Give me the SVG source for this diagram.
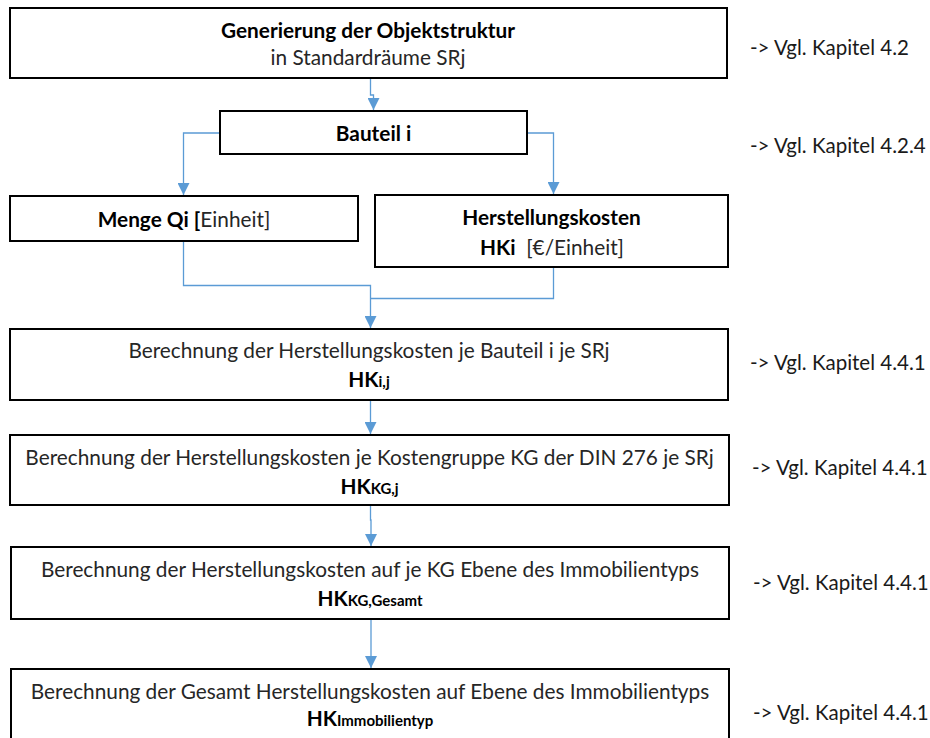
<svg xmlns="http://www.w3.org/2000/svg" width="930" height="738" viewBox="0 0 930 738">
  <style>
    .box { fill: #ffffff; stroke: #000000; stroke-width: 2; }
    .t { font-family: Lato, "Liberation Sans", sans-serif; font-size: 20.8px; fill: #262626; text-anchor: middle; }
    .b { font-weight: bold; fill: #000000; }
    .sub { font-size: 15px; font-weight: bold; }
    .ref { font-family: Lato, "Liberation Sans", sans-serif; font-size: 20.5px; fill: #1a1a1a; }
    .conn { fill: none; stroke: #5b9bd5; stroke-width: 1.3; marker-end: url(#arrow); }
  </style>
  <defs>
    <marker id="arrow" viewBox="0 0 12 12" refX="12" refY="6" markerWidth="12" markerHeight="12" markerUnits="userSpaceOnUse" orient="auto">
      <path d="M0,0 L12,6 L0,12 Z" fill="#5b9bd5"/>
    </marker>
  </defs>
  <rect width="930" height="738" fill="#ffffff"/>

  <!-- connectors -->
  <g id="connectors">
    <path class="conn" d="M370.5,79 V95 H373.5 V110"/>
    <path class="conn" d="M220,133 H183.5 V195"/>
    <path class="conn" d="M527,133 H553.5 V194"/>
    <path d="M183.5,241 V285.5 H370.5 V298" fill="none" stroke="#5b9bd5" stroke-width="1.3"/>
    <path d="M553.5,267 V298.5 H370.5" fill="none" stroke="#5b9bd5" stroke-width="1.3"/>
    <path class="conn" d="M370.5,298 V328"/>
    <path class="conn" d="M370.5,400 V434"/>
    <path class="conn" d="M370.5,505 V520 H371 V546"/>
    <path class="conn" d="M371,619 V668"/>
  </g>

  <!-- process steps -->
  <g id="objektstruktur">
    <rect class="box" x="10" y="8" width="717" height="70"/>
    <text class="t b" x="368" y="38">Generierung der Objektstruktur</text>
    <text class="t" x="368" y="65">in Standardräume SRj</text>
  </g>
  <g id="bauteil">
    <rect class="box" x="220" y="111" width="307" height="43"/>
    <text class="t b" x="373.5" y="141">Bauteil i</text>
  </g>
  <g id="menge">
    <rect class="box" x="10" y="196" width="348" height="45"/>
    <text class="t" x="184" y="227"><tspan class="b">Menge Qi [</tspan>Einheit]</text>
  </g>
  <g id="herstellungskosten">
    <rect class="box" x="375" y="195" width="353" height="72"/>
    <text class="t b" x="551.5" y="225">Herstellungskosten</text>
    <text class="t" x="552" y="255" xml:space="preserve"><tspan class="b">HKi</tspan>  [€/Einheit]</text>
  </g>
  <g id="hk-bauteil">
    <rect class="box" x="10" y="329" width="718" height="71"/>
    <text class="t" x="369" y="358">Berechnung der Herstellungskosten je Bauteil i je SRj</text>
    <text class="t b" x="369" y="387">HK<tspan class="sub">i,j</tspan></text>
  </g>
  <g id="hk-kostengruppe">
    <rect class="box" x="10" y="435" width="719" height="70"/>
    <text class="t" x="369.5" y="465">Berechnung der Herstellungskosten je Kostengruppe KG der DIN 276 je SRj</text>
    <text class="t b" x="369.5" y="494">HK<tspan class="sub">KG,j</tspan></text>
  </g>
  <g id="hk-kg-gesamt">
    <rect class="box" x="11" y="547" width="718" height="72"/>
    <text class="t" x="370" y="577">Berechnung der Herstellungskosten auf je KG Ebene des Immobilientyps</text>
    <text class="t b" x="370" y="606">HK<tspan class="sub">KG,Gesamt</tspan></text>
  </g>
  <g id="hk-immobilientyp">
    <rect class="box" x="11" y="669" width="718" height="80"/>
    <text class="t" x="370" y="699">Berechnung der Gesamt Herstellungskosten auf Ebene des Immobilientyps</text>
    <text class="t b" x="370" y="726">HK<tspan class="sub">Immobilientyp</tspan></text>
  </g>

  <!-- chapter references -->
  <g id="references">
    <text class="ref" x="750" y="55">-&gt; Vgl. Kapitel 4.2</text>
    <text class="ref" x="750" y="153">-&gt; Vgl. Kapitel 4.2.4</text>
    <text class="ref" x="750" y="370">-&gt; Vgl. Kapitel 4.4.1</text>
    <text class="ref" x="752" y="475">-&gt; Vgl. Kapitel 4.4.1</text>
    <text class="ref" x="753" y="590">-&gt; Vgl. Kapitel 4.4.1</text>
    <text class="ref" x="753" y="720">-&gt; Vgl. Kapitel 4.4.1</text>
  </g>
</svg>
